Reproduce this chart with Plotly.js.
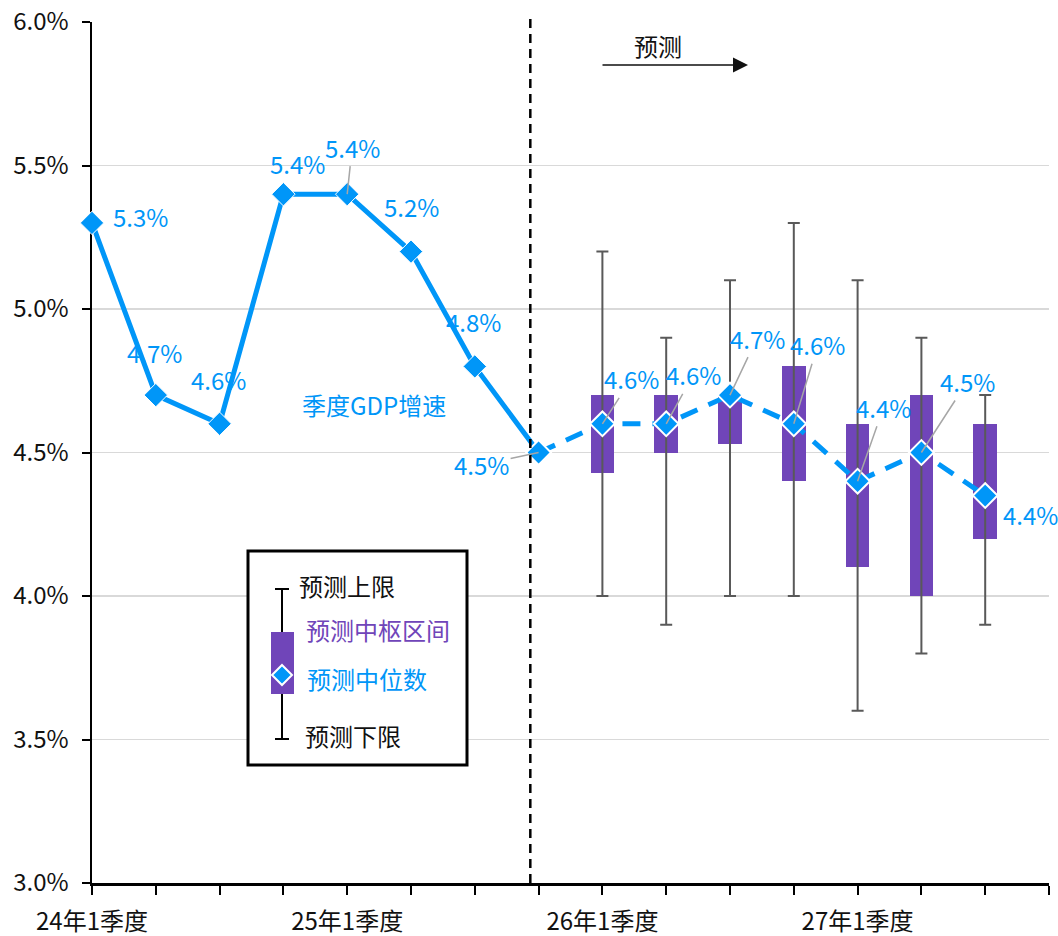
<!DOCTYPE html>
<html>
<head>
<meta charset="utf-8">
<script src="https://cdn.plot.ly/plotly-3.0.1.min.js"></script>
<style>html,body{margin:0;padding:0;background:#fff;}</style>
</head>
<body>
<div id="chart" style="width:1058px;height:936px;"></div>
<script>
// ---- data ----
const quarterTickText = ['24年1季度','','','','25年1季度','','','','26年1季度','','','','27年1季度','','',''];
const historyQuarters = [0,1,2,3,4,5,6,7];
const historyGDP = [5.3,4.7,4.6,5.4,5.4,5.2,4.8,4.5];
const forecastQuarters = [8,9,10,11,12,13,14];
const forecastMedian = [4.6,4.6,4.7,4.6,4.4,4.5,4.35];
const forecastMedianLabels = ['4.6%','4.6%','4.7%','4.6%','4.4%','4.5%','4.4%'];
const forecastUpper = [5.2,4.9,5.1,5.3,5.1,4.9,4.7];
const forecastLower = [4.0,3.9,4.0,4.0,3.6,3.8,3.9];
const coreHigh = [4.7,4.7,4.7,4.8,4.6,4.7,4.6];
const coreLow = [4.43,4.5,4.53,4.4,4.1,4.0,4.2];
const historyLabels = ['5.3%','4.7%','4.6%','5.4%','5.4%','5.2%','4.8%','4.5%'];

// ---- styles ----
const BLUE = '#0096F8';
const PURPLE = '#7045B9';
const GRAYBAR = '#595959';
const LEADER = '#A6A6A6';
const FONT = '"Noto Sans CJK SC", "Noto Sans", sans-serif';
const FS = 24;

const traces = [];
// core range boxes
traces.push({
  type: 'bar', x: forecastQuarters,
  base: coreLow,
  y: coreHigh.map((h, i) => h - coreLow[i]),
  width: 0.37,
  marker: {color: PURPLE, line: {width: 0}},
  hoverinfo: 'skip'
});
// whiskers
traces.push({
  type: 'scatter', mode: 'markers', x: forecastQuarters, y: forecastMedian,
  marker: {size: 2, opacity: 0},
  error_y: {type: 'data', symmetric: false,
    array: forecastUpper.map((u, i) => u - forecastMedian[i]),
    arrayminus: forecastMedian.map((m, i) => m - forecastLower[i]),
    color: GRAYBAR, thickness: 2, width: 6},
  cliponaxis: false, hoverinfo: 'skip'
});
// history line
traces.push({
  type: 'scatter', mode: 'lines+markers', x: historyQuarters, y: historyGDP,
  line: {color: BLUE, width: 5},
  marker: {symbol: 'diamond', size: 18, color: BLUE, line: {color: 'white', width: 1}},
  cliponaxis: false
});
// forecast median dashed line
traces.push({
  type: 'scatter', mode: 'lines+markers',
  x: [historyQuarters[historyQuarters.length - 1]].concat(forecastQuarters),
  y: [historyGDP[historyGDP.length - 1]].concat(forecastMedian),
  line: {color: BLUE, width: 5, dash: '18px,12px'},
  marker: {symbol: 'diamond', size: 19, color: BLUE, line: {color: 'white', width: 2}},
  cliponaxis: false
});

// ---- label annotations ----
const annotations = [];
const histOffsets = [[48,-6,false],[-1,-43,false],[-1,-44,false],[14,-31,false],[5,-47,true],[0,-45,false],[-1,-45,false],[-57,12,true]];
historyLabels.forEach((t, i) => {
  const o = histOffsets[i];
  annotations.push({x: historyQuarters[i], y: historyGDP[i], xref: 'x', yref: 'y', text: t,
    showarrow: o[2], arrowhead: 0, arrowwidth: 1.5, arrowcolor: LEADER, standoff: 0,
    ax: o[0], ay: o[1], axref: 'pixel', ayref: 'pixel',
    xshift: o[2] ? 0 : o[0], yshift: o[2] ? 0 : -o[1],
    xanchor: 'center', yanchor: 'middle',
    font: {family: FONT, size: FS, color: BLUE}});
});
const fcOffsets = [[29,-45,true],[27,-49,true],[27,-57,true],[24,-79,true],[26,-74,true],[46,-71,true],[45,19,false]];
forecastMedianLabels.forEach((t, i) => {
  const o = fcOffsets[i];
  annotations.push({x: forecastQuarters[i], y: forecastMedian[i], xref: 'x', yref: 'y', text: t,
    showarrow: o[2], arrowhead: 0, arrowwidth: 1.5, arrowcolor: LEADER, standoff: 0,
    ax: o[0], ay: o[1], axref: 'pixel', ayref: 'pixel',
    xshift: o[2] ? 0 : o[0], yshift: o[2] ? 0 : -o[1],
    xanchor: 'center', yanchor: 'middle',
    font: {family: FONT, size: FS, color: BLUE}});
});
function px(p) { return (p - 92) / 957; }
function py(p) { return (883 - p) / 861; }
annotations.push({xref: 'paper', yref: 'paper', x: px(374), y: py(404), xanchor: 'center', yanchor: 'middle',
  text: '季度GDP增速', showarrow: false, font: {family: FONT, size: FS, color: BLUE}});
annotations.push({xref: 'paper', yref: 'paper', x: px(658), y: py(46), xanchor: 'center', yanchor: 'middle',
  text: '预测', showarrow: false, font: {family: FONT, size: FS, color: '#111'}});
annotations.push({xref: 'paper', yref: 'paper', x: px(748), y: py(65), text: '', showarrow: true,
  ax: -147, ay: 0, arrowhead: 2, arrowsize: 2, arrowwidth: 1.5, arrowcolor: '#111', standoff: 0});
// legend texts
const legendTexts = [
  ['预测上限', 297, 585, '#111'],
  ['预测中枢区间', 304, 629, PURPLE],
  ['预测中位数', 305, 678, BLUE],
  ['预测下限', 303, 735, '#111']
];
legendTexts.forEach(l => {
  annotations.push({xref: 'paper', yref: 'paper', x: px(l[1]), y: py(l[2]), xanchor: 'left', yanchor: 'middle',
    text: l[0], showarrow: false, font: {family: FONT, size: FS, color: l[3]}});
});

// ---- shapes ----
const shapes = [
  // forecast divider
  {type: 'line', xref: 'x', yref: 'paper', x0: 6.87, x1: 6.87, y0: 0, y1: 1.008,
   line: {color: '#000', width: 2.5, dash: '9px,6px'}},
  // legend box
  {type: 'rect', xref: 'paper', yref: 'paper', x0: px(248), x1: px(467), y0: py(765), y1: py(551),
   line: {color: '#000', width: 3}, fillcolor: 'white'},
  {type: 'line', xref: 'paper', yref: 'paper', x0: px(282), x1: px(282), y0: py(739), y1: py(589), line: {color: '#000', width: 2}},
  {type: 'line', xref: 'paper', yref: 'paper', x0: px(275), x1: px(289), y0: py(589), y1: py(589), line: {color: '#000', width: 2}},
  {type: 'line', xref: 'paper', yref: 'paper', x0: px(275), x1: px(289), y0: py(739), y1: py(739), line: {color: '#000', width: 2}},
  {type: 'rect', xref: 'paper', yref: 'paper', x0: px(271), x1: px(294), y0: py(694), y1: py(632), line: {width: 0}, fillcolor: PURPLE},
  {type: 'path', xref: 'paper', yref: 'paper',
   path: 'M' + px(282) + ',' + py(665) + ' L' + px(292) + ',' + py(675) + ' L' + px(282) + ',' + py(685) + ' L' + px(272) + ',' + py(675) + ' Z',
   fillcolor: BLUE, line: {color: 'white', width: 2}}
];

const layout = {
  width: 1058, height: 936,
  margin: {l: 92, r: 9, t: 22, b: 53},
  paper_bgcolor: 'white', plot_bgcolor: 'white',
  showlegend: false,
  font: {family: FONT, size: FS, color: '#111'},
  xaxis: {range: [0, 15], tickvals: quarterTickText.map((_, i) => i), ticktext: quarterTickText,
    showgrid: false, zeroline: false, showline: true, linecolor: '#000', linewidth: 3,
    ticks: 'outside', ticklen: 9, tickwidth: 2, tickcolor: '#000', ticklabelstandoff: 6,
    tickfont: {family: FONT, size: FS, color: '#111'}, layer: 'below traces', fixedrange: true},
  yaxis: {range: [3, 6], dtick: 0.5, tickformat: '.1f', ticksuffix: '%',
    showgrid: true, gridcolor: '#D9D9D9', gridwidth: 1.5, zeroline: false,
    showline: true, linecolor: '#000', linewidth: 2.5,
    ticks: 'outside', ticklen: 8, tickwidth: 2, tickcolor: '#000', ticklabelstandoff: 8,
    tickfont: {family: FONT, size: FS, color: '#111'}, layer: 'below traces', fixedrange: true},
  bargap: 0, annotations: annotations, shapes: shapes
};

Plotly.newPlot('chart', traces, layout, {displayModeBar: false, staticPlot: true});
</script>
</body>
</html>
